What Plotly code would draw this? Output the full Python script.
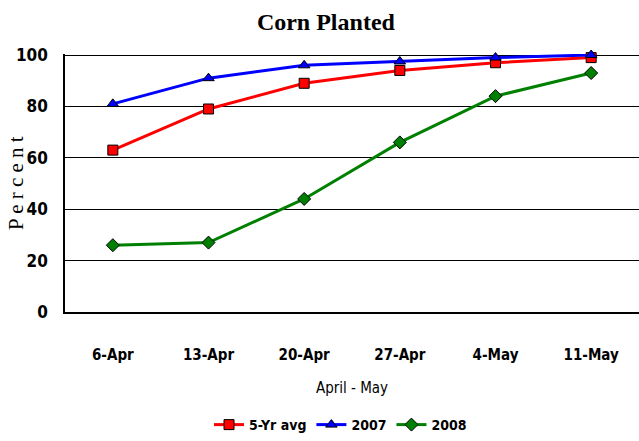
import plotly.graph_objects as go

dates = ["6-Apr", "13-Apr", "20-Apr", "27-Apr", "4-May", "11-May"]
avg5 = [63, 79, 89, 94, 97, 99]
y2007 = [81, 91, 96, 97.5, 99, 100]
y2008 = [26, 27, 44, 66, 84, 93]
yticks = [0, 20, 40, 60, 80, 100]

fig = go.Figure()
series = [
    ("5-Yr avg", avg5, "#ff0000", "square"),
    ("2007", y2007, "#0000ff", "triangle-up"),
    ("2008", y2008, "#008000", "diamond"),
]
for name, vals, col, sym in series:
    fig.add_trace(go.Scatter(
        x=dates, y=vals, name=name, mode="lines+markers",
        line=dict(color=col, width=3),
        marker=dict(symbol=sym, size=10, color=col, line=dict(color="black", width=1)),
        cliponaxis=False,
    ))

narrow = "DejaVu Sans Condensed, Liberation Sans Narrow, Arial Narrow, Liberation Sans, Arial"
serif = "Liberation Serif, Times New Roman, serif"
fig.update_layout(
    width=639, height=441,
    margin=dict(l=65, r=0, t=54, b=129),
    paper_bgcolor="white", plot_bgcolor="white",
    title=dict(text="<b>Corn Planted</b>", x=0.51, xanchor="center", y=0.95, yanchor="middle",
               font=dict(family=serif, size=24, color="black")),
    xaxis=dict(
        type="category", range=[-0.5, 5.5], showgrid=False, automargin=False,
        showline=True, linecolor="black", linewidth=1.5,
        ticks="", ticklabelstandoff=28,
        tickfont=dict(family=narrow, size=15, color="black", weight="bold"),
        title=dict(text="April - May", standoff=20,
                   font=dict(family=narrow, size=15, color="black")),
    ),
    yaxis=dict(
        range=[0, 100.4], tickvals=yticks, showgrid=True, gridcolor="black", gridwidth=1,
        showline=True, linecolor="black", linewidth=1.5, zeroline=False, automargin=False,
        ticks="", ticklabelstandoff=12,
        tickfont=dict(family=narrow, size=17, color="black", weight="bold"),
    ),
    annotations=[dict(text="P e r c e n t", textangle=-90, xref="paper", yref="paper",
                      x=-49 / 574, y=0.5, xanchor="center", yanchor="middle", showarrow=False,
                      font=dict(family=serif, size=21, color="black"))],
    legend=dict(orientation="h", x=0.48, xanchor="center", y=-0.44, yanchor="middle",
                font=dict(family=narrow, size=14, color="black", weight="bold"),
                itemwidth=30, tracegroupgap=0),
    showlegend=True,
)
fig.write_html("out.html", config={"displayModeBar": False},
               post_script="document.body.style.margin='0';")
